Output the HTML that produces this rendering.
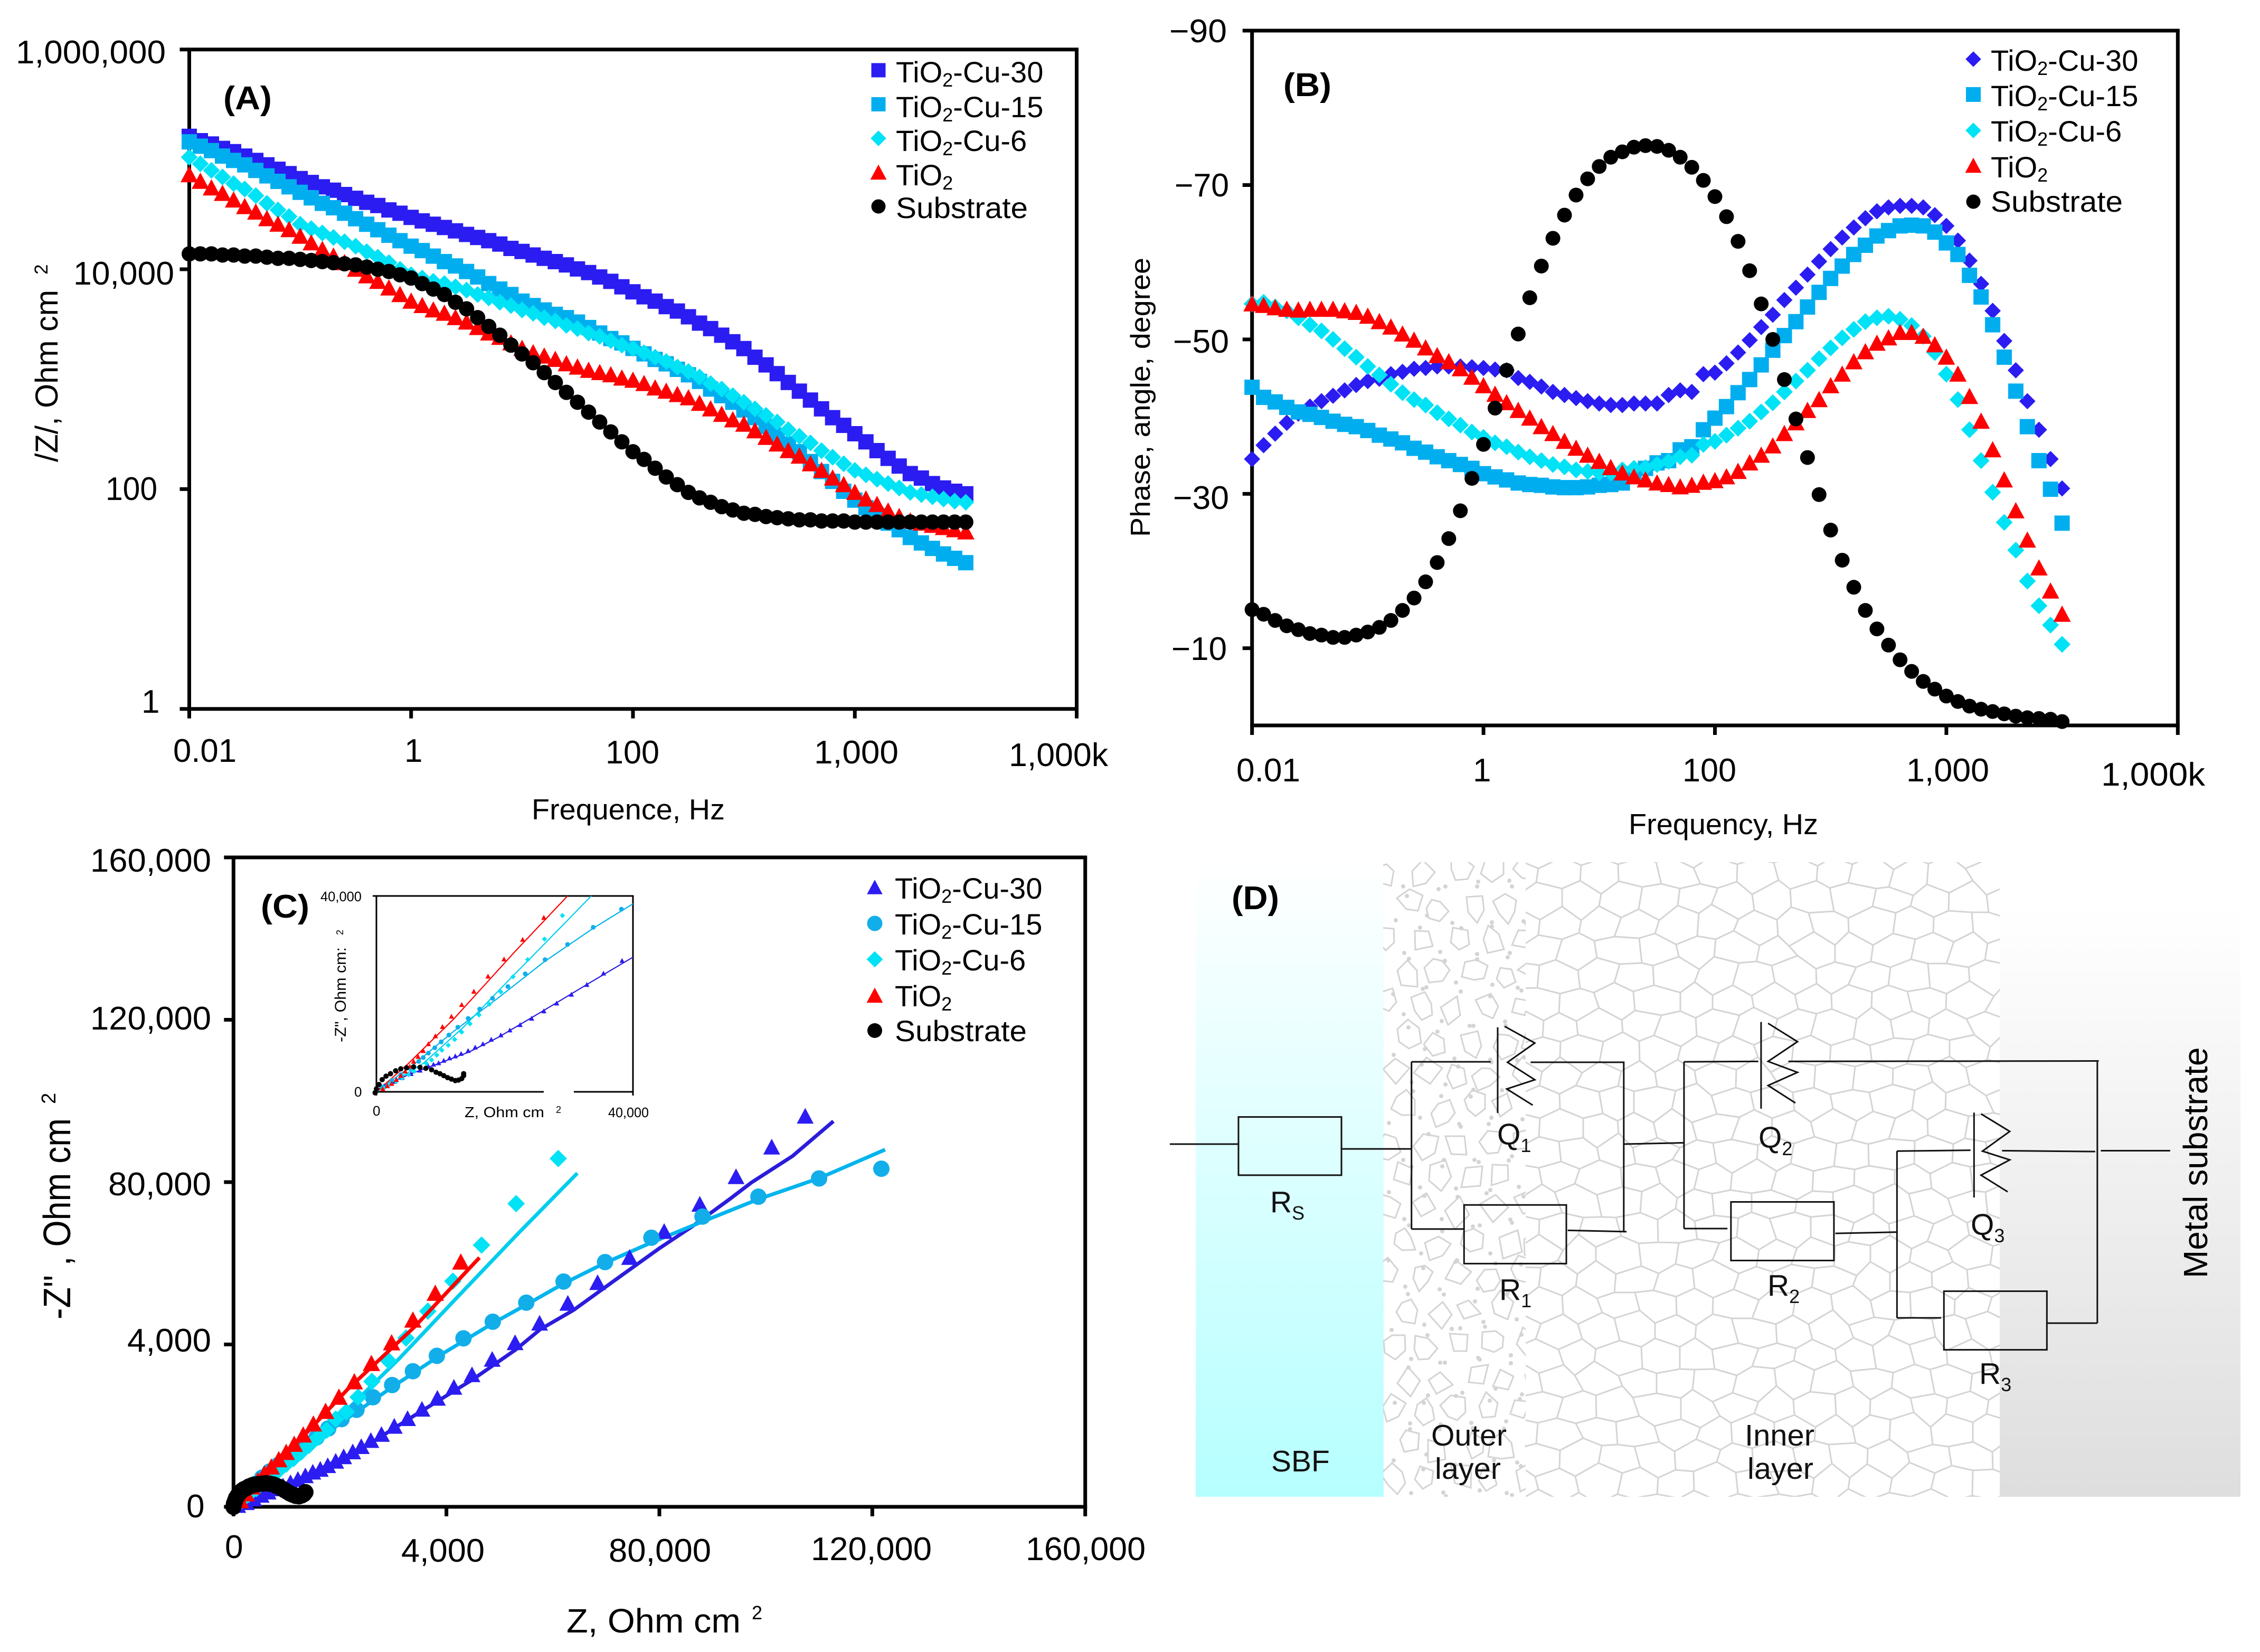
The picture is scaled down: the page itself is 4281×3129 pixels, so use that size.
<!DOCTYPE html>
<html lang="en"><head><meta charset="utf-8"><title>EIS results for TiO2-Cu coatings</title>
<style>
html,body{margin:0;padding:0;background:#fff}
svg{display:block}
text{font-family:"Liberation Sans",sans-serif;fill:#000}
.t{font-size:62px}
.l{font-size:56px}
.p{font-size:62px;font-weight:bold}
.i{font-size:26px}
.d{font-size:57px;fill:#111}
.s{font-size:36px}
.c{fill:none;stroke:#111;stroke-width:3;vector-effect:non-scaling-stroke}
</style></head><body>
<svg xmlns="http://www.w3.org/2000/svg" width="4281" height="3129" viewBox="0 0 4281 3129">
<defs>
<linearGradient id="sbfGrad" x1="0" y1="0" x2="0" y2="1"><stop offset="0" stop-color="#fff"/><stop offset="1" stop-color="#b6ffff"/></linearGradient>
<linearGradient id="metalGrad" x1="0" y1="0" x2="0" y2="1"><stop offset="0" stop-color="#fff"/><stop offset="0.07" stop-color="#fff"/><stop offset="1" stop-color="#dedede"/></linearGradient>
<clipPath id="outerClip"><rect x="2620" y="1633" width="270" height="1202"/></clipPath>
<clipPath id="innerClip"><rect x="2890" y="1633" width="898" height="1202"/></clipPath>
</defs>
<rect width="4281" height="3129" fill="#fff"/>

<!-- Panel D backgrounds -->
<g>
<rect x="2265" y="1633" width="356" height="1202" fill="url(#sbfGrad)"/>
<rect x="3788" y="1633" width="456" height="1202" fill="url(#metalGrad)"/>
<g id="outerTex" clip-path="url(#outerClip)"></g>
<g id="innerTex" clip-path="url(#innerClip)"></g>
<g transform="translate(2200,1600) scale(1.327,0.829)">
<path class="c" d="M12 684H110M257 695H357M357 496V878M357 496H470M527 497H660V884M580 881L664 884M357 878H432M660 684L746 681M746 496V877M746 496L852 495M895 495L1338 494M746 877H808M962 888L1050 885M1050 700V1081M1050 700L1155 698M1200 699L1333 701M1050 1081H1113M1264 1093H1336M1336 494V1093M1341 699H1440"/>
<rect class="c" x="110" y="622" width="147" height="133"/>
<rect class="c" x="432" y="823" width="146" height="134"/>
<rect class="c" x="813" y="816" width="147" height="134"/>
<rect class="c" x="1117" y="1020" width="147" height="134"/>
<path class="c" d="M480 417V613M490 415L533 453L494 497L533 537L493 558L530 595"/>
<path class="c" d="M856 405V603M866 408L908 450L866 495L908 520L866 550L905 590"/>
<path class="c" d="M1160 612V806M1170 615L1211 655L1172 700L1211 720L1170 755L1208 793"/>
</g>
<text class="p" x="2333" y="1722" textLength="90" lengthAdjust="spacingAndGlyphs">(D)</text>
<text class="d" x="2406" y="2296">R<tspan class="s" dy="14">S</tspan></text>
<text class="d" x="2836" y="2168">Q<tspan class="s" dy="14">1</tspan></text>
<text class="d" x="2840" y="2462">R<tspan class="s" dy="14">1</tspan></text>
<text class="d" x="3331" y="2174">Q<tspan class="s" dy="14">2</tspan></text>
<text class="d" x="3348" y="2454">R<tspan class="s" dy="14">2</tspan></text>
<text class="d" x="3733" y="2339">Q<tspan class="s" dy="14">3</tspan></text>
<text class="d" x="3749" y="2621">R<tspan class="s" dy="14">3</tspan></text>
<text class="d" x="2408" y="2787">SBF</text>
<text class="d" x="2711" y="2752" textLength="143" lengthAdjust="spacingAndGlyphs" transform="translate(0,-14)">Outer</text>
<text class="d" x="2718" y="2815" textLength="125" lengthAdjust="spacingAndGlyphs" transform="translate(0,-14)">layer</text>
<text class="d" x="3305" y="2752" textLength="132" lengthAdjust="spacingAndGlyphs" transform="translate(0,-14)">Inner</text>
<text class="d" x="3310" y="2815" textLength="125" lengthAdjust="spacingAndGlyphs" transform="translate(0,-14)">layer</text>
<text transform="translate(4181,2421) rotate(-90)" style="font-size:64px">Metal substrate</text>
</g>

<!-- Panel A -->
<g>
<g id="axesA"></g>
<g id="marksA"></g>
<text class="t" x="30" y="120" textLength="284" lengthAdjust="spacingAndGlyphs">1,000,000</text>
<text class="t" x="139" y="539" textLength="191" lengthAdjust="spacingAndGlyphs">10,000</text>
<text class="t" x="200" y="947" textLength="98" lengthAdjust="spacingAndGlyphs">100</text>
<text class="t" x="268" y="1350">1</text>
<text class="t" x="328" y="1443" textLength="120" lengthAdjust="spacingAndGlyphs">0.01</text>
<text class="t" x="766" y="1443">1</text>
<text class="t" x="1147" y="1446" textLength="102" lengthAdjust="spacingAndGlyphs">100</text>
<text class="t" x="1542" y="1446" textLength="160" lengthAdjust="spacingAndGlyphs">1,000</text>
<text class="t" x="1911" y="1451" textLength="188" lengthAdjust="spacingAndGlyphs">1,000k</text>
<text x="1007" y="1552" style="font-size:55px" textLength="366" lengthAdjust="spacingAndGlyphs">Frequence, Hz</text>
<text transform="translate(109,875) rotate(-90)" style="font-size:60px" textLength="326" lengthAdjust="spacingAndGlyphs">/Z/, Ohm cm</text>
<text transform="translate(90,520) rotate(-90)" style="font-size:35px">2</text>
<text class="p" x="423" y="207" textLength="92" lengthAdjust="spacingAndGlyphs">(A)</text>
<g id="legendA">
<text class="l" x="1697" y="156">TiO<tspan class="s" dy="8">2</tspan><tspan dy="-8">-Cu-30</tspan></text>
<text class="l" x="1697" y="222">TiO<tspan class="s" dy="8">2</tspan><tspan dy="-8">-Cu-15</tspan></text>
<text class="l" x="1697" y="286">TiO<tspan class="s" dy="8">2</tspan><tspan dy="-8">-Cu-6</tspan></text>
<text class="l" x="1697" y="351">TiO<tspan class="s" dy="8">2</tspan></text>
<text class="l" x="1697" y="413" textLength="250" lengthAdjust="spacingAndGlyphs">Substrate</text>
</g>
</g>

<!-- Panel B -->
<g>
<g id="axesB"></g>
<g id="marksB"></g>
<text class="t" x="2215" y="80" textLength="109" lengthAdjust="spacingAndGlyphs">−90</text>
<text class="t" x="2225" y="372" textLength="103" lengthAdjust="spacingAndGlyphs">−70</text>
<text class="t" x="2222" y="668" textLength="106" lengthAdjust="spacingAndGlyphs">−50</text>
<text class="t" x="2222" y="964" textLength="106" lengthAdjust="spacingAndGlyphs">−30</text>
<text class="t" x="2219" y="1250" textLength="105" lengthAdjust="spacingAndGlyphs">−10</text>
<text class="t" x="2342" y="1480" textLength="121" lengthAdjust="spacingAndGlyphs">0.01</text>
<text class="t" x="2790" y="1480">1</text>
<text class="t" x="3187" y="1480" textLength="102" lengthAdjust="spacingAndGlyphs">100</text>
<text class="t" x="3611" y="1480" textLength="157" lengthAdjust="spacingAndGlyphs">1,000</text>
<text class="t" x="3980" y="1488" textLength="197" lengthAdjust="spacingAndGlyphs">1,000k</text>
<text x="3085" y="1580" style="font-size:55px" textLength="359" lengthAdjust="spacingAndGlyphs">Frequency, Hz</text>
<text transform="translate(2178,1017) rotate(-90)" style="font-size:52px" textLength="529" lengthAdjust="spacingAndGlyphs">Phase, angle, degree</text>
<text class="p" x="2431" y="182" textLength="91" lengthAdjust="spacingAndGlyphs">(B)</text>
<g id="legendB">
<text class="l" x="3771" y="134">TiO<tspan class="s" dy="8">2</tspan><tspan dy="-8">-Cu-30</tspan></text>
<text class="l" x="3771" y="201">TiO<tspan class="s" dy="8">2</tspan><tspan dy="-8">-Cu-15</tspan></text>
<text class="l" x="3771" y="268">TiO<tspan class="s" dy="8">2</tspan><tspan dy="-8">-Cu-6</tspan></text>
<text class="l" x="3771" y="336">TiO<tspan class="s" dy="8">2</tspan></text>
<text class="l" x="3771" y="401" textLength="250" lengthAdjust="spacingAndGlyphs">Substrate</text>
</g>
</g>

<!-- Panel C -->
<g>
<g id="axesC"></g>
<g id="marksC"></g>
<text class="t" x="171" y="1651" textLength="229" lengthAdjust="spacingAndGlyphs">160,000</text>
<text class="t" x="171" y="1950" textLength="229" lengthAdjust="spacingAndGlyphs">120,000</text>
<text class="t" x="205" y="2264" textLength="195" lengthAdjust="spacingAndGlyphs">80,000</text>
<text class="t" x="241" y="2560" textLength="159" lengthAdjust="spacingAndGlyphs">4,000</text>
<text class="t" x="353" y="2874">0</text>
<text class="t" x="426" y="2951">0</text>
<text class="t" x="760" y="2958" textLength="158" lengthAdjust="spacingAndGlyphs">4,000</text>
<text class="t" x="1153" y="2958" textLength="194" lengthAdjust="spacingAndGlyphs">80,000</text>
<text class="t" x="1536" y="2955" textLength="229" lengthAdjust="spacingAndGlyphs">120,000</text>
<text class="t" x="1943" y="2955" textLength="227" lengthAdjust="spacingAndGlyphs">160,000</text>
<text x="1073" y="3092" style="font-size:64px" textLength="330" lengthAdjust="spacingAndGlyphs">Z, Ohm cm</text>
<text x="1424" y="3067" style="font-size:36px">2</text>
<text transform="translate(133,2499) rotate(-90)" style="font-size:72px" textLength="381" lengthAdjust="spacingAndGlyphs">-Z" , Ohm cm</text>
<text transform="translate(105,2091) rotate(-90)" style="font-size:38px">2</text>
<text class="p" x="494" y="1738" textLength="92" lengthAdjust="spacingAndGlyphs">(C)</text>
<g id="legendC">
<text class="l" x="1695" y="1702">TiO<tspan class="s" dy="8">2</tspan><tspan dy="-8">-Cu-30</tspan></text>
<text class="l" x="1695" y="1770">TiO<tspan class="s" dy="8">2</tspan><tspan dy="-8">-Cu-15</tspan></text>
<text class="l" x="1695" y="1838">TiO<tspan class="s" dy="8">2</tspan><tspan dy="-8">-Cu-6</tspan></text>
<text class="l" x="1695" y="1906">TiO<tspan class="s" dy="8">2</tspan></text>
<text class="l" x="1695" y="1972" textLength="250" lengthAdjust="spacingAndGlyphs">Substrate</text>
</g>
<g>
<g id="axesI"></g>
<rect x="1030" y="2065" width="57" height="7" fill="#fff"/>
<g id="marksI"></g>
<text class="i" x="607" y="1707" textLength="78" lengthAdjust="spacingAndGlyphs">40,000</text>
<text class="i" x="671" y="2077">0</text>
<text class="i" x="706" y="2113">0</text>
<text class="i" x="1152" y="2116" textLength="77" lengthAdjust="spacingAndGlyphs">40,000</text>
<text class="i" x="880" y="2116" style="font-size:28px" textLength="151" lengthAdjust="spacingAndGlyphs">Z, Ohm cm</text>
<text x="1053" y="2108" style="font-size:18px">2</text>
<text transform="translate(655,1974) rotate(-90)" style="font-size:30px" textLength="180" lengthAdjust="spacingAndGlyphs">-Z", Ohm cm:</text>
<text transform="translate(650,1771) rotate(-90)" style="font-size:18px">2</text>
</g>
</g>
</svg>

<script>
/* ---------- Frequency grid: log10(f / Hz) ---------- */
var freqExp=[-2,-1.9,-1.8,-1.7,-1.6,-1.5,-1.4,-1.3,-1.2,-1.1,
-1,-0.9,-0.8,-0.7,-0.6,-0.5,-0.4,-0.3,-0.2,-0.1,
0,0.1,0.2,0.3,0.4,0.5,0.6,0.7,0.8,0.9,
1,1.1,1.2,1.3,1.4,1.5,1.6,1.7,1.8,1.9,
2,2.1,2.2,2.3,2.4,2.5,2.6,2.7,2.8,2.9,
3,3.1,3.2,3.3,3.4,3.5,3.6,3.7,3.8,3.9,
4,4.1,4.2,4.3,4.4,4.5,4.6,4.7,4.8,4.9,
5];

/* ---------- Panel A: log10|Z| ---------- */
var xTicksA=[-2,0,2,4,6];
var yTicksA=[0,2,4,6];
var logZCu30=[5.21,5.17,5.14,5.10,5.07,5.03,4.99,4.95,4.91,4.87,
4.825,4.79,4.75,4.72,4.68,4.646,4.61,4.58,4.54,4.51,
4.472,4.44,4.41,4.38,4.35,4.317,4.29,4.26,4.23,4.19,
4.162,4.13,4.10,4.07,4.04,4.003,3.97,3.93,3.89,3.84,
3.795,3.75,3.71,3.66,3.62,3.568,3.51,3.46,3.40,3.34,
3.278,3.20,3.13,3.05,2.97,2.891,2.81,2.73,2.65,2.58,
2.504,2.43,2.35,2.28,2.21,2.141,2.10,2.05,2.01,1.98,
1.957];
var logZCu15=[5.16,5.12,5.08,5.03,4.99,4.95,4.90,4.85,4.80,4.75,
4.70,4.65,4.60,4.56,4.51,4.46,4.41,4.36,4.31,4.26,
4.21,4.17,4.12,4.07,4.03,3.98,3.93,3.87,3.82,3.77,
3.71,3.67,3.63,3.59,3.56,3.52,3.47,3.42,3.37,3.33,
3.28,3.23,3.18,3.14,3.09,3.04,2.98,2.91,2.85,2.79,
2.72,2.65,2.57,2.49,2.41,2.34,2.25,2.16,2.07,1.98,
1.90,1.83,1.76,1.69,1.63,1.56,1.51,1.46,1.41,1.37,
1.33];
var logZCu6=[5.02,4.96,4.90,4.84,4.78,4.73,4.67,4.60,4.54,4.48,
4.41,4.37,4.33,4.29,4.25,4.21,4.16,4.11,4.06,4.00,
3.95,3.92,3.89,3.87,3.84,3.81,3.77,3.74,3.70,3.67,
3.63,3.60,3.56,3.53,3.49,3.46,3.42,3.39,3.35,3.31,
3.28,3.24,3.20,3.16,3.11,3.07,3.02,2.96,2.91,2.85,
2.79,2.73,2.67,2.61,2.54,2.48,2.42,2.35,2.29,2.23,
2.17,2.13,2.09,2.05,2.01,1.97,1.95,1.93,1.91,1.89,
1.88];
var logZTiO2=[4.86,4.80,4.74,4.69,4.63,4.57,4.52,4.46,4.41,4.36,
4.30,4.24,4.18,4.12,4.06,4.00,3.94,3.89,3.83,3.77,
3.71,3.67,3.63,3.60,3.56,3.52,3.47,3.42,3.38,3.33,
3.28,3.24,3.21,3.18,3.14,3.11,3.08,3.06,3.04,3.01,
2.99,2.96,2.92,2.89,2.86,2.83,2.78,2.73,2.68,2.63,
2.59,2.53,2.47,2.41,2.35,2.30,2.23,2.17,2.10,2.04,
1.97,1.91,1.86,1.80,1.75,1.71,1.69,1.67,1.65,1.63,
1.61];
var logZSub=[4.14,4.14,4.14,4.13,4.13,4.12,4.12,4.11,4.10,4.10,
4.09,4.08,4.07,4.06,4.05,4.04,4.02,4.00,3.98,3.95,
3.92,3.87,3.82,3.77,3.70,3.64,3.56,3.48,3.40,3.31,
3.23,3.15,3.06,2.97,2.88,2.79,2.70,2.61,2.52,2.43,
2.34,2.27,2.19,2.11,2.04,1.97,1.92,1.88,1.84,1.81,
1.78,1.77,1.75,1.74,1.73,1.72,1.72,1.71,1.71,1.71,
1.70,1.70,1.70,1.70,1.70,1.70,1.70,1.70,1.70,1.70,
1.70];

/* ---------- Panel B: phase magnitude, degrees ---------- */
var xTicksB=[-2,0,2,4,6];
var yTicksB=[90,70,50,30,10];
var phaseCu30=[34.5,36.3,37.8,39.2,40.4,41.3,42.0,42.7,43.4,44.1,
44.6,44.9,45.5,45.8,46.2,46.3,46.5,46.5,46.5,46.4,
46.3,46.1,46.0,45.0,44.5,43.9,43.2,42.8,42.4,42.0,
41.7,41.5,41.5,41.7,41.7,41.7,42.8,43.4,43.2,45.5,
45.7,46.9,48.3,49.9,51.6,53.2,55.1,56.7,58.4,60.1,
61.7,63.2,64.5,65.7,66.6,67.1,67.3,67.3,67.1,66.1,
64.7,62.8,60.2,57.2,53.7,49.8,46.0,42.0,38.3,34.5,
30.7];
var phaseCu15=[43.8,42.5,41.9,41.2,40.6,40.3,39.9,39.4,39.0,38.7,
38.2,37.6,37.1,36.6,35.9,35.4,34.8,34.3,33.8,33.3,
32.6,32.2,31.8,31.4,31.2,31.1,30.9,30.8,30.8,30.9,
31.1,31.2,31.4,32.6,33.3,34.0,34.3,35.7,36.1,38.3,
39.8,41.3,43.1,44.8,46.7,48.6,50.5,52.3,54.2,56.1,
57.9,59.5,61.0,62.2,63.4,64.1,64.7,64.8,64.7,63.9,
62.5,61.0,58.3,55.5,51.9,47.7,43.3,38.7,34.3,30.6,
26.2];
var phaseCu6=[54.6,54.8,54.2,53.7,52.8,51.9,51.1,50.0,48.8,47.7,
46.5,45.4,44.2,43.1,42.2,41.5,40.5,39.7,38.9,38.0,
37.3,36.6,36.1,35.4,34.8,34.3,33.8,33.5,33.1,32.9,
32.7,32.7,33.1,33.3,33.4,33.8,34.2,34.8,35.0,36.4,
36.8,37.6,38.5,39.4,40.6,41.8,43.2,44.6,46.0,47.5,
48.9,50.2,51.3,52.3,52.8,53.0,52.6,51.8,50.4,48.3,
45.5,42.2,38.3,34.3,30.2,26.3,22.7,18.7,15.5,13.0,
10.5];
var phaseTiO2=[54.6,54.4,54.1,53.9,53.8,53.9,53.9,53.9,53.7,53.5,
53.0,52.3,51.6,50.7,49.9,48.9,47.9,47.1,46.2,45.1,
44.0,42.9,41.8,40.8,39.8,38.7,37.8,36.8,35.9,35.0,
34.2,33.4,32.7,32.2,31.8,31.4,31.2,30.9,31.1,31.5,
31.7,32.2,32.9,34.0,35.0,36.2,37.8,39.2,40.8,42.2,
44.0,45.5,47.1,48.4,49.5,50.2,50.9,50.9,50.4,49.3,
47.7,45.5,42.6,39.4,35.7,31.8,27.8,24.0,20.4,17.4,
14.4];
var phaseSub=[15.0,14.4,13.6,12.9,12.4,11.9,11.7,11.4,11.4,11.7,
12.1,12.7,13.6,14.9,16.5,18.6,21.1,24.2,27.8,32.0,
36.4,41.1,46.0,50.7,55.4,59.5,63.1,66.1,68.7,70.8,
72.4,73.6,74.3,74.9,75.1,75.0,74.5,73.6,72.3,70.6,
68.5,65.9,62.7,58.9,54.6,50.0,44.8,39.7,34.7,29.9,
25.3,21.4,17.9,14.9,12.5,10.4,8.5,7.0,5.7,4.7,
3.8,3.1,2.5,2.1,1.8,1.5,1.2,1.0,0.9,0.8,
0.5];

/* ---------- Panel C: Nyquist, thousand ohm cm2 ---------- */
var xTicksC=[0,40,80,120,160];
var yTicksC=[0,40,80,120,160];
var cCu30Z=[107.4,101.1,94.4,87.6,80.9,74.4,68.4,62.8,57.5,52.9,48.6,44.8,41.4,38.3,35.4,32.7,30.2,27.8,25.8,24.0,22.4,20.7,19.2,17.7,16.3,14.9,13.5,12.1,10.7,9.3,7.9,6.5,5.2,3.8,2.4,0.8];
var cCu30Zi=[96.2,88.6,81.3,74.5,67.8,61.4,55.2,50.1,45.2,40.4,36.3,32.5,29.4,26.7,24.0,21.7,19.8,17.8,16.3,14.8,13.5,12.3,11.2,10.1,9.2,8.5,7.6,6.7,5.9,5.1,4.4,3.6,2.8,1.9,1.0,0.3];
var cFit30Z=[112.7,105.0,97.3,93.2,86.2,79.9,73.0,63.9,57.6,53.1,45.1,34.0,24.2,11.7,0.6];
var cFit30Zi=[95.0,86.4,79.9,75.8,69.1,63.6,57.1,48.5,43.7,38.8,31.5,22.5,14.4,6.4,0.3];
var cCu15Z=[121.7,110.0,98.6,88.1,78.5,69.8,62.0,55.0,48.7,43.2,38.2,33.7,29.8,26.2,23.1,20.3,17.8,15.6,13.6,11.7,10.0,8.4,6.8,5.4,4.0,2.6,1.3];
var cCu15Zi=[83.3,80.9,76.4,71.5,66.3,60.3,55.5,50.3,45.6,41.5,37.2,33.4,30.0,27.0,23.9,21.6,19.3,17.1,15.2,13.4,11.8,10.3,8.7,7.2,5.6,4.1,1.9];
var cFit15Z=[122.4,109.9,98.6,87.6,78.5,69.8,62.0,55.0,48.7,39.5,29.8,21.4,11.7,0.6];
var cFit15Zi=[88.0,80.9,75.8,70.0,65.1,60.1,55.0,49.8,45.2,37.9,29.5,21.8,12.8,0.6];
var cCu6Z=[61.0,53.1,46.6,41.2,36.5,32.4,29.1,26.0,23.4,21.2,19.2,17.5,15.9,14.2,12.7,11.3,9.9,8.5,7.1,5.7,4.3,2.9,1.5];
var cCu6Zi=[85.8,74.7,64.5,55.6,48.2,41.6,36.0,30.9,27.0,23.4,21.6,18.9,17.1,15.2,13.5,11.9,10.5,9.0,7.4,6.0,4.5,3.1,1.5];
var cFit6Z=[64.6,53.5,42.3,31.2,18.7,8.9,0.6];
var cFit6Zi=[82.2,67.4,52.0,36.6,20.5,9.0,0.6];
var cTiO2Z=[42.7,37.9,33.7,29.7,25.9,22.7,19.8,17.3,15.0,13.1,11.4,9.9,8.5,7.1,5.8,4.6,3.5,2.4,1.3];
var cTiO2Zi=[60.3,52.6,46.0,40.4,35.3,30.8,27.0,23.5,20.4,17.7,15.4,13.4,11.6,9.8,8.1,6.4,4.9,3.2,1.5];
var cFitTZ=[46.2,34.0,21.4,11.7,0.6];
var cFitTZi=[61.4,44.3,28.9,15.4,0.6];
var cSubZ=[0,0.1,0.3,0.5,0.8,1.1,1.5,1.9,2.4,2.9,3.5,4.1,4.7,5.4,6.1,6.8,7.5,8.0,8.6,9.1,9.6,10.1,10.6,11.1,11.7,12.3,12.8,13.2,13.5];
var cSubZi=[0,0.8,1.5,2.2,2.8,3.4,3.9,4.3,4.6,5.0,5.3,5.5,5.6,5.7,5.8,5.7,5.5,5.2,4.9,4.5,4.1,3.7,3.3,3.0,2.7,2.6,2.8,3.1,3.6];

/* ---------- Inset of panel C ---------- */
var iCu30Z=[38.3,35.4,32.8,30.4,28.1,26.1,24.2,22.4,20.8,19.4,17.9,16.6,15.4,14.3,13.2,12.3,11.4,10.5,9.7,8.9,8.1,6.8,5.4,4.0,2.6,1.2];
var iCu30Zi=[26.8,24.2,21.9,19.9,18.1,16.5,15.0,13.7,12.6,11.6,10.7,9.8,9.1,8.4,7.8,7.3,6.9,6.4,5.9,5.6,5.2,4.4,3.7,2.9,2.1,1.2];
var iFit30Z=[40,33.3,26.2,19.1,14.4,9.7,5.0,0.7,0];
var iFit30Zi=[27.5,22.3,16.7,11.2,8.1,5.8,3.5,1.0,0];
var iCu15Z=[38.2,33.8,29.8,26.3,23.2,20.5,18.1,16.1,14.3,12.7,11.3,10.1,9.1,8.1,7.3,6.6,5.2,3.8,2.4,0.9];
var iCu15Zi=[37.3,33.6,30.1,27.0,24.1,21.5,19.1,16.9,15.0,13.2,11.6,10.2,9.0,7.9,7.0,6.2,4.8,3.5,2.3,1.0];
var iFit15Z=[40,33.8,26.2,19.1,12.0,6.4,0];
var iFit15Zi=[38.4,33.4,26.6,19.3,12.3,6.2,0];
var iCu6Z=[29.0,26.2,23.6,21.3,19.4,17.6,16.0,14.6,13.3,12.2,11.2,10.2,9.4,8.6,7.8,6.8,5.9,5.0,4.0,3.1,2.1,1.2];
var iCu6Zi=[36.0,31.2,27.0,23.5,20.4,17.9,15.7,13.9,12.2,10.7,9.5,8.5,7.5,6.5,5.8,5.0,4.2,3.5,2.8,2.1,1.5,0.8];
var iFit6Z=[33.5,26.2,19.6,13.5,7.3,0];
var iFit6Zi=[40,30.2,21.4,13.1,5.8,0];
var iTiO2Z=[26.1,22.8,19.9,17.4,15.2,13.3,11.7,10.3,9.2,8.1,7.3,6.5,5.8,5.2,4.5,3.8,3.1,2.4,1.7,1.0];
var iTiO2Zi=[35.6,31.1,27.1,23.6,20.5,17.8,15.4,13.3,11.4,9.8,8.4,7.2,6.2,5.2,4.2,3.3,2.5,1.7,1.2,0.6];
var iFitTZ=[29.8,21.5,12.0,5.0,0];
var iFitTZi=[40,28.5,14.8,5.8,0];
var iSubZ=[-0.2,0,0.4,0.9,1.5,2.2,3.0,3.8,4.7,5.8,6.8,7.7,8.6,9.3,9.9,10.5,11.1,11.7,12.3,12.8,13.3,13.6,13.6];
var iSubZi=[-0.2,0.6,1.5,2.5,3.2,3.7,4.3,4.7,4.9,5.1,5.0,4.8,4.5,4.0,3.7,3.3,2.9,2.6,2.3,2.4,2.7,3.3,3.7];

/* ---------- Axis functions ---------- */
function xA(v){return 358.5+(v+2)/8*(2039.5-358.5);}
function yA(v){return 1342.7-v/6*(1342.7-93.7);}
function xB(v){return 2371.7+(v+2)/8*(4125.3-2371.7);}
function yB(v){return 1374-v/90*(1374-58);}
function xC(v){return 442.3+v/160*(2055.7-442.3);}
function yC(v){return 2854-v/160*(2854-1624);}
function xI(v){return 713+v/40*(1199-713);}
function yI(v){return 2068-v/40*(2068-1697);}

var NS='http://www.w3.org/2000/svg';
var BLUE='#2b1cf2',SKY='#00aeef',CYAN='#00e2f6',RED='#ff0000',BLACK='#000';

function mark(parent,shape,cx,cy,s,fill,name){
  var el;
  if(shape==='circle'){
    el=document.createElementNS(NS,'circle');
    el.setAttribute('cx',cx);el.setAttribute('cy',cy);el.setAttribute('r',s/2);
  }else{
    el=document.createElementNS(NS,'polygon');
    var h=s/2,p;
    if(shape==='square')p=[[-h,-h],[h,-h],[h,h],[-h,h]];
    else if(shape==='diamond')p=[[0,-h*1.1],[h*1.1,0],[0,h*1.1],[-h*1.1,0]];
    else p=[[0,-h*1.1],[h*1.1,h*0.95],[-h*1.1,h*0.95]];
    el.setAttribute('points',p.map(function(q){return (cx+q[0]).toFixed(1)+','+(cy+q[1]).toFixed(1);}).join(' '));
  }
  el.setAttribute('fill',fill);
  
  
  parent.appendChild(el);
}
function seg(parent,x1,y1,x2,y2,w,name){
  var l=document.createElementNS(NS,'line');
  l.setAttribute('x1',x1);l.setAttribute('y1',y1);l.setAttribute('x2',x2);l.setAttribute('y2',y2);
  l.setAttribute('stroke','#000');l.setAttribute('stroke-width',w);
  
  
  parent.appendChild(l);
}
function fit(parent,fx,fy,xs,ys,color,w,name){
  var p=document.createElementNS(NS,'polyline');
  p.setAttribute('points',xs.map(function(v,i){return fx(v).toFixed(1)+','+fy(ys[i]).toFixed(1);}).join(' '));
  p.setAttribute('fill','none');p.setAttribute('stroke',color);p.setAttribute('stroke-width',w);
  p.setAttribute('stroke-linejoin','round');
  
  
  parent.appendChild(p);
}
function axes(id,fx,fy,xt,yt,w,tl,L,R,T,B){
  var g=document.getElementById(id);
  seg(g,L-w/2,T,R+w/2,T,w,'top-border');
  seg(g,R,T,R,B,w,'right-border');
  seg(g,L-w/2,B,R+w/2,B,w,'x-axis-line');
  seg(g,L,T,L,B,w,'y-axis-line');
  xt.forEach(function(v){seg(g,fx(v),B,fx(v),B+tl,w,'x-tick');});
  yt.forEach(function(v){seg(g,L-tl,fy(v),L,fy(v),w,'y-tick');});
}
axes('axesA',xA,yA,xTicksA,yTicksA,7,18,358.5,2039.5,93.7,1342.7);
axes('axesB',xB,yB,xTicksB,yTicksB,7,18,2371.7,4125.3,58,1374);
axes('axesC',xC,yC,xTicksC,yTicksC,7,18,442.3,2055.7,1624,2854);
axes('axesI',xI,yI,[0,40],[0,40],3,7,713,1199,1697,2068);

function drawFreq(id,fx,fy,list){
  var g=document.getElementById(id);
  list.forEach(function(s){
    s.vals.forEach(function(v,i){
      mark(g,s.shape,fx(freqExp[i]),fy(v),s.size,s.color,s.name);
    });
  });
}
drawFreq('marksA',xA,yA,[
 {vals:logZCu30,shape:'square',size:29,color:BLUE,name:'cu30-impedance-point'},
 {vals:logZCu15,shape:'square',size:29,color:SKY,name:'cu15-impedance-point'},
 {vals:logZCu6,shape:'diamond',size:29,color:CYAN,name:'cu6-impedance-point'},
 {vals:logZTiO2,shape:'triangle',size:30,color:RED,name:'tio2-impedance-point'},
 {vals:logZSub,shape:'circle',size:29,color:BLACK,name:'substrate-impedance-point'}]);
drawFreq('marksB',xB,yB,[
 {vals:phaseCu30,shape:'diamond',size:28,color:BLUE,name:'cu30-phase-point'},
 {vals:phaseCu15,shape:'square',size:29,color:SKY,name:'cu15-phase-point'},
 {vals:phaseCu6,shape:'diamond',size:29,color:CYAN,name:'cu6-phase-point'},
 {vals:phaseTiO2,shape:'triangle',size:30,color:RED,name:'tio2-phase-point'},
 {vals:phaseSub,shape:'circle',size:28,color:BLACK,name:'substrate-phase-point'}]);

function drawXY(g,fx,fy,xs,ys,shape,size,color,name){
  xs.forEach(function(v,i){mark(g,shape,fx(v),fy(ys[i]),size,color,name);});
}
var gC=document.getElementById('marksC');
fit(gC,xC,yC,cFit30Z,cFit30Zi,'#2b1cdc',7,'cu30-fit-line');
fit(gC,xC,yC,cFit15Z,cFit15Zi,'#00b4ee',7,'cu15-fit-line');
fit(gC,xC,yC,cFit6Z,cFit6Zi,'#00cdee',7,'cu6-fit-line');
drawXY(gC,xC,yC,cCu30Z,cCu30Zi,'triangle',29,BLUE,'cu30-nyquist-point');
drawXY(gC,xC,yC,cCu15Z,cCu15Zi,'circle',31,'#12aeea','cu15-nyquist-point');
drawXY(gC,xC,yC,cCu6Z,cCu6Zi,'diamond',30,CYAN,'cu6-nyquist-point');
drawXY(gC,xC,yC,cTiO2Z,cTiO2Zi,'triangle',30,RED,'tio2-nyquist-point');
fit(gC,xC,yC,cFitTZ,cFitTZi,RED,7,'tio2-fit-line');
drawXY(gC,xC,yC,cSubZ,cSubZi,'circle',31,BLACK,'substrate-nyquist-point');

var gI=document.getElementById('marksI');
fit(gI,xI,yI,iFit30Z,iFit30Zi,'#2b1cdc',2.2,'inset-cu30-fit-line');
fit(gI,xI,yI,iFit15Z,iFit15Zi,'#00b4ee',2.2,'inset-cu15-fit-line');
fit(gI,xI,yI,iFit6Z,iFit6Zi,'#00cdee',2.2,'inset-cu6-fit-line');
fit(gI,xI,yI,iFitTZ,iFitTZi,RED,2.2,'inset-tio2-fit-line');
drawXY(gI,xI,yI,iCu30Z,iCu30Zi,'triangle',9,BLUE,'inset-cu30-point');
drawXY(gI,xI,yI,iCu15Z,iCu15Zi,'circle',9,'#12aeea','inset-cu15-point');
drawXY(gI,xI,yI,iCu6Z,iCu6Zi,'diamond',9,CYAN,'inset-cu6-point');
drawXY(gI,xI,yI,iTiO2Z,iTiO2Zi,'triangle',9,RED,'inset-tio2-point');
drawXY(gI,xI,yI,iSubZ,iSubZi,'circle',10,BLACK,'inset-substrate-point');

/* Legends */
var legA=document.getElementById('legendA');
mark(legA,'square',1664,133,27,BLUE,'legend-marker');
mark(legA,'square',1664,197.5,27,SKY,'legend-marker');
mark(legA,'diamond',1664,262,27,CYAN,'legend-marker');
mark(legA,'triangle',1664,327,28,RED,'legend-marker');
mark(legA,'circle',1664,391,27,BLACK,'legend-marker');
var legB=document.getElementById('legendB');
mark(legB,'diamond',3738,112,27,BLUE,'legend-marker');
mark(legB,'square',3738,179,28,SKY,'legend-marker');
mark(legB,'diamond',3738,247,27,CYAN,'legend-marker');
mark(legB,'triangle',3738,314,28,RED,'legend-marker');
mark(legB,'circle',3738,382,27,BLACK,'legend-marker');
var legC=document.getElementById('legendC');
mark(legC,'triangle',1657,1681,27,BLUE,'legend-marker');
mark(legC,'circle',1657,1749,29,'#12aeea','legend-marker');
mark(legC,'diamond',1657,1817,28,CYAN,'legend-marker');
mark(legC,'triangle',1657,1886,28,RED,'legend-marker');
mark(legC,'circle',1657,1952,28,BLACK,'legend-marker');

/* Decorative cell texture of panel D (not data) */
function hsh(a,b){var s=Math.sin(a*127.1+b*311.7)*43758.5453;return s-Math.floor(s);}
(function(){
  var w=37,H=48,a=15,d='';
  function v(i,j){
    return [2880+i*w+(hsh(i,j)-0.5)*18, 1625+j*H+(((i+j)%2)?a:0)+(hsh(j+9,i+3)-0.5)*16];
  }
  for(var j=0;j<27;j++){
    for(var i=0;i<27;i++){
      var p=v(i,j),q=v(i+1,j);
      d+='M'+p[0].toFixed(0)+' '+p[1].toFixed(0)+'L'+q[0].toFixed(0)+' '+q[1].toFixed(0);
      if((i+j)%2){
        var r=v(i,j+1);
        d+='M'+p[0].toFixed(0)+' '+p[1].toFixed(0)+'L'+r[0].toFixed(0)+' '+r[1].toFixed(0);
      }
    }
  }
  var el=document.createElementNS(NS,'path');
  el.setAttribute('d',d);el.setAttribute('fill','none');el.setAttribute('stroke','#d4d4d4');el.setAttribute('stroke-width','3');
  
  
  document.getElementById('innerTex').appendChild(el);

  var d2='',dots='';
  for(var gy=0;gy<19;gy++){
    for(var gx=0;gx<5;gx++){
      var cx=2635+gx*62+(hsh(gx,gy)-0.5)*22+(gy%2)*30, cy=1650+gy*64+(hsh(gy,gx+5)-0.5)*22;
      var n=4+Math.floor(hsh(gx+2,gy+7)*3),t=hsh(gx+4,gy+1)*6.28;
      for(var k=0;k<n;k++){
        var ang=t+k/n*6.283,rad=15+hsh(k+gx,gy+k)*14;
        d2+=(k?'L':'M')+(cx+Math.cos(ang)*rad).toFixed(0)+' '+(cy+Math.sin(ang)*rad*1.1).toFixed(0);
      }
      d2+='Z';
      dots+='M'+(cx+30+hsh(gx,gy+3)*6).toFixed(0)+' '+(cy+26).toFixed(0)+'h0';
      dots+='M'+(cx-28).toFixed(0)+' '+(cy+34+hsh(gy,gx)*6).toFixed(0)+'h0';
    }
  }
  var e2=document.createElementNS(NS,'path');
  e2.setAttribute('d',d2);e2.setAttribute('fill','none');e2.setAttribute('stroke','#d4d4d4');e2.setAttribute('stroke-width','3');
  
  
  document.getElementById('outerTex').appendChild(e2);
  var e3=document.createElementNS(NS,'path');
  e3.setAttribute('d',dots);e3.setAttribute('fill','none');e3.setAttribute('stroke','#d4d4d4');e3.setAttribute('stroke-width','8');e3.setAttribute('stroke-linecap','round');
  
  
  document.getElementById('outerTex').appendChild(e3);
})();
</script>
</body></html>
